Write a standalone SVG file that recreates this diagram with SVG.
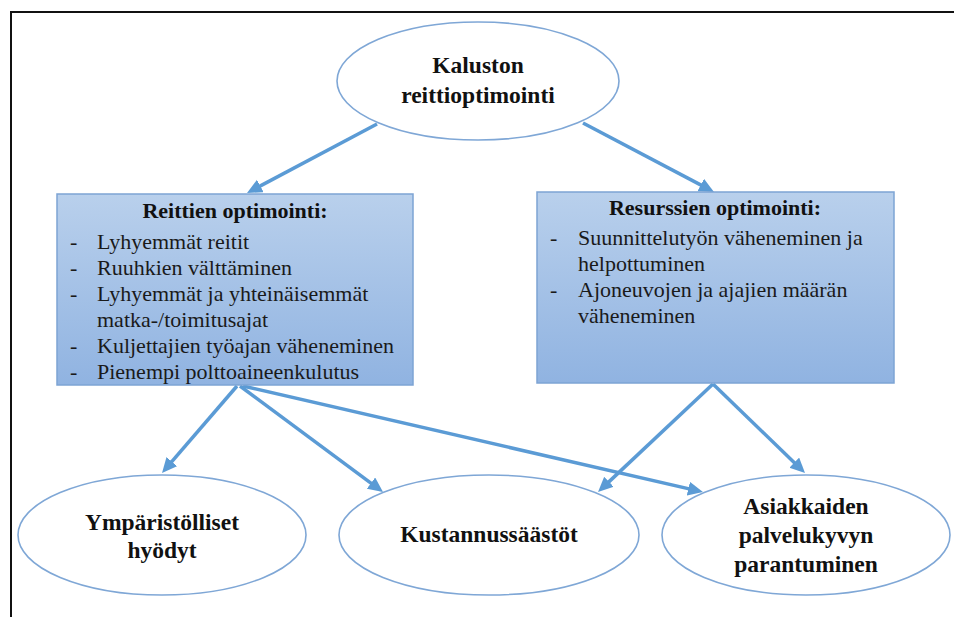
<svg xmlns="http://www.w3.org/2000/svg" width="954" height="617" viewBox="0 0 954 617">
  <style>
    .frame { stroke: #111; stroke-width: 2; fill: none; }
    .oval { fill: #ffffff; stroke: #7fa7d6; stroke-width: 1.6; }
    .box { fill: url(#boxFill); stroke: #7da4d4; stroke-width: 1.5; }
    text { font-family: "Liberation Serif", "Times New Roman", serif; }
    .head { font-weight: bold; font-size: 23.5px; fill: #111; text-anchor: middle; }
    .title { font-weight: bold; font-size: 22px; fill: #111; text-anchor: middle; }
    .item { font-size: 22px; fill: #1a1a1a; }
    .link { stroke: #5b9bd5; stroke-width: 3.5; fill: none; marker-end: url(#arrow); }
  </style>
  <defs>
    <linearGradient id="boxFill" x1="0" y1="0" x2="0" y2="1">
      <stop offset="0" stop-color="#b9d0ec"/>
      <stop offset="1" stop-color="#90b3e1"/>
    </linearGradient>
    <marker id="arrow" markerUnits="userSpaceOnUse" markerWidth="17" markerHeight="15" refX="2" refY="7" orient="auto">
      <path d="M0,0 L15,7 L0,14 z" fill="#5b9bd5"/>
    </marker>
  </defs>

  <!-- page frame -->
  <path class="frame" d="M11,617 V12 H954"/>

  <!-- connectors -->
  <g id="connectors">
    <line class="link" x1="377" y1="124" x2="258.5" y2="186.9"/>
    <line class="link" x1="583" y1="123" x2="702.5" y2="185.9"/>
    <line class="link" x1="237" y1="386" x2="170.5" y2="463.1"/>
    <line class="link" x1="240" y1="386" x2="372.6" y2="484.3"/>
    <line class="link" x1="243" y1="386" x2="690.3" y2="489.1"/>
    <line class="link" x1="713" y1="384" x2="607.5" y2="483.1"/>
    <line class="link" x1="713" y1="384" x2="795.7" y2="464"/>
  </g>

  <g id="root">
    <ellipse class="oval" cx="478" cy="81" rx="141" ry="59"/>
    <text class="head" x="478" y="73">Kaluston</text>
    <text class="head" x="478" y="103">reittioptimointi</text>
  </g>

  <g id="routes">
    <rect class="box" x="57" y="194" width="356" height="191"/>
    <text class="title" x="235" y="218">Reittien optimointi:</text>
    <text class="item" x="70" y="249">-</text><text class="item" x="97" y="249">Lyhyemmät reitit</text>
    <text class="item" x="70" y="275">-</text><text class="item" x="97" y="275">Ruuhkien välttäminen</text>
    <text class="item" x="70" y="301">-</text><text class="item" x="97" y="301">Lyhyemmät ja yhteinäisemmät</text>
    <text class="item" x="97" y="327">matka-/toimitusajat</text>
    <text class="item" x="70" y="353">-</text><text class="item" x="97" y="353">Kuljettajien työajan väheneminen</text>
    <text class="item" x="70" y="379">-</text><text class="item" x="97" y="379">Pienempi polttoaineenkulutus</text>
  </g>

  <g id="resources">
    <rect class="box" x="537" y="192" width="357" height="191"/>
    <text class="title" x="715" y="215">Resurssien optimointi:</text>
    <text class="item" x="550" y="245">-</text><text class="item" x="578" y="245">Suunnittelutyön väheneminen ja</text>
    <text class="item" x="578" y="271">helpottuminen</text>
    <text class="item" x="550" y="297">-</text><text class="item" x="578" y="297">Ajoneuvojen ja ajajien määrän</text>
    <text class="item" x="578" y="323">väheneminen</text>
  </g>

  <g id="environment">
    <ellipse class="oval" cx="162" cy="535" rx="144" ry="60"/>
    <text class="head" x="162" y="530">Ympäristölliset</text>
    <text class="head" x="162" y="558">hyödyt</text>
  </g>

  <g id="savings">
    <ellipse class="oval" cx="489" cy="535" rx="150" ry="60"/>
    <text class="head" x="489" y="542">Kustannussäästöt</text>
  </g>

  <g id="service">
    <ellipse class="oval" cx="806" cy="535" rx="144" ry="60"/>
    <text class="head" x="806" y="514">Asiakkaiden</text>
    <text class="head" x="806" y="543">palvelukyvyn</text>
    <text class="head" x="806" y="572">parantuminen</text>
  </g>
</svg>
